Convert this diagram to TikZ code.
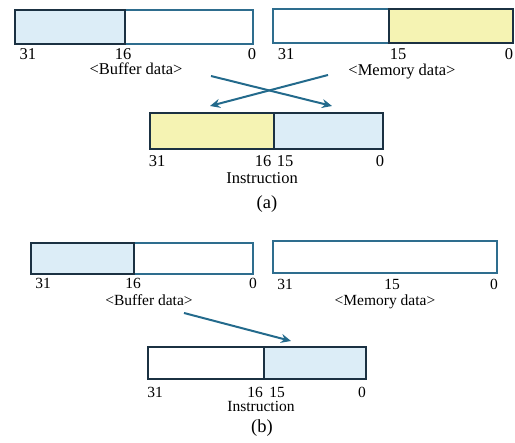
\documentclass[tikz,border=0pt]{standalone}
\usepackage{fontspec}
\setmainfont{Liberation Serif}
\usetikzlibrary{arrows.meta}
\definecolor{steel}{HTML}{2E6D8E}
\definecolor{darkb}{HTML}{1B3142}
\definecolor{lblue}{HTML}{DCEDF7}
\definecolor{lyel}{HTML}{F5F3B3}
\definecolor{arr}{HTML}{236A8C}
\begin{document}
\begin{tikzpicture}[x=1pt,y=-1pt,
  outerbox/.style={draw=steel, line width=1.9pt, fill=white, inner sep=0, anchor=north west},
  partbox/.style={draw=darkb, line width=2pt, inner sep=0, anchor=north west},
  lbla/.style={font=\fontsize{16.5}{16.5}\selectfont, anchor=base, inner sep=0},
  lblb/.style={font=\fontsize{15.5}{15.5}\selectfont, anchor=base, inner sep=0},
  captext/.style={font=\fontsize{18.5}{18.5}\selectfont, anchor=base, inner sep=0},
  conn/.style={draw=arr, line width=2pt, -{Stealth[length=10pt,width=9pt]}}]
\useasboundingbox (0,0) rectangle (515,443);

% ---------- (a) ----------
\node[outerbox, minimum width=238pt, minimum height=34pt] (bufA) at (14,9) {};
\node[partbox, fill=lblue, minimum width=110pt, minimum height=34pt] (bufAhi) at (14,9) {};
\node[lbla] (bA31) at (28,60) {31};
\node[lbla] (bA16) at (123,60) {16};
\node[lbla] (bA0) at (252,60) {0};
\node[lbla] (bAlab) at (136,75) {<Buffer data>};

\node[outerbox, minimum width=240pt, minimum height=34pt] (memA) at (272,8) {};
\node[partbox, fill=lyel, minimum width=124pt, minimum height=34pt] (memAlo) at (388,8) {};
\node[lbla] (mA31) at (286,60) {31};
\node[lbla] (mA15) at (398,60) {15};
\node[lbla] (mA0) at (509,60) {0};
\node[lbla] (mAlab) at (402,76) {<Memory data>};

\node[partbox, fill=lyel, minimum width=124pt, minimum height=36pt] (insAhi) at (149,112) {};
\node[partbox, fill=lblue, minimum width=109pt, minimum height=36pt] (insAlo) at (273,112) {};
\node[lbla] (iA31) at (157,167) {31};
\node[lbla] (iA16) at (263,167) {16};
\node[lbla] (iA15) at (285,167) {15};
\node[lbla] (iA0) at (380,167) {0};
\node[lbla] (iAlab) at (262,184) {Instruction};
\node[captext] (capA) at (267,209) {(a)};

\coordinate (a1s) at (211,76);
\coordinate (a1e) at (332,106);
\coordinate (a2s) at (328,75);
\coordinate (a2e) at (210,106);
\draw[conn] (a1s) -- (a1e);
\draw[conn] (a2s) -- (a2e);

% ---------- (b) ----------
\node[outerbox, minimum width=222pt, minimum height=31pt] (bufB) at (30,242) {};
\node[partbox, fill=lblue, minimum width=103pt, minimum height=31pt] (bufBhi) at (30,242) {};
\node[lblb] (bB31) at (43,289) {31};
\node[lblb] (bB16) at (133,289) {16};
\node[lblb] (bB0) at (253,289) {0};
\node[lblb] (bBlab) at (149,306) {<Buffer data>};

\node[outerbox, minimum width=224pt, minimum height=32pt] (memB) at (272,240) {};
\node[lblb] (mB31) at (285,290) {31};
\node[lblb] (mB15) at (392,290) {15};
\node[lblb] (mB0) at (494,290) {0};
\node[lblb] (mBlab) at (385,306) {<Memory data>};

\node[partbox, fill=white, minimum width=116pt, minimum height=32pt] (insBhi) at (147,346) {};
\node[partbox, fill=lblue, minimum width=102pt, minimum height=32pt] (insBlo) at (263,346) {};
\node[lblb] (iB31) at (155,398) {31};
\node[lblb] (iB16) at (255,398) {16};
\node[lblb] (iB15) at (277,398) {15};
\node[lblb] (iB0) at (362,398) {0};
\node[lblb] (iBlab) at (261,412) {Instruction};
\node[captext] (capB) at (262,433) {(b)};

\coordinate (b1s) at (184,313);
\coordinate (b1e) at (291,341);
\draw[conn] (b1s) -- (b1e);
\end{tikzpicture}
\end{document}
